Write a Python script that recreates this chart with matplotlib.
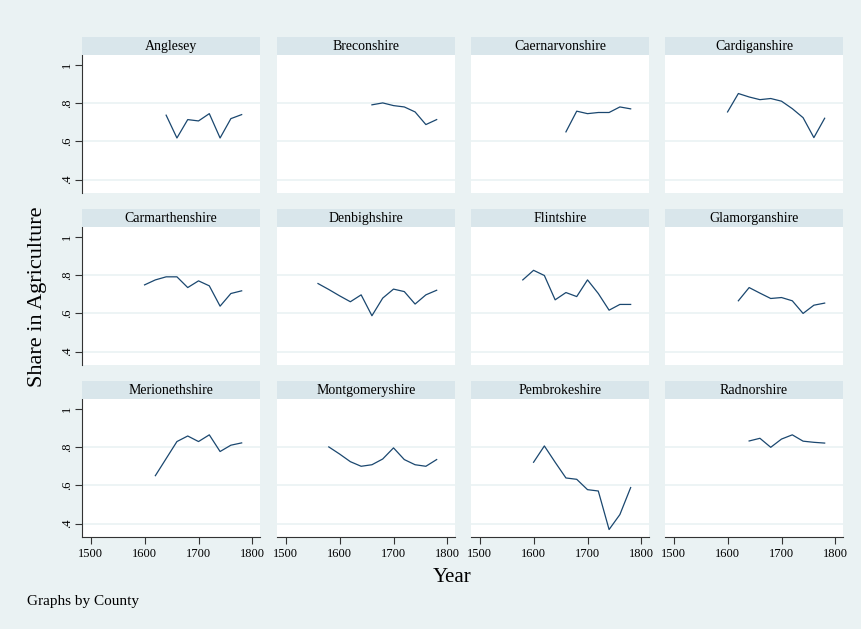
import matplotlib.pyplot as plt

plt.rcParams['font.family'] = ['Liberation Serif', 'DejaVu Serif']

# share in agriculture by county, 20-year steps
counties = ['Anglesey', 'Breconshire', 'Caernarvonshire', 'Cardiganshire',
            'Carmarthenshire', 'Denbighshire', 'Flintshire', 'Glamorganshire',
            'Merionethshire', 'Montgomeryshire', 'Pembrokeshire', 'Radnorshire']

anglesey_yr = [1640, 1660, 1680, 1700, 1720, 1740, 1760, 1780]
anglesey = [0.736, 0.617, 0.713, 0.706, 0.744, 0.617, 0.718, 0.739]

brecon_yr = [1660, 1680, 1700, 1720, 1740, 1760, 1780]
brecon = [0.790, 0.800, 0.786, 0.779, 0.753, 0.687, 0.713]

caernarvon_yr = [1660, 1680, 1700, 1720, 1740, 1760, 1780]
caernarvon = [0.649, 0.757, 0.744, 0.750, 0.750, 0.779, 0.769]

cardigan_yr = [1600, 1620, 1640, 1660, 1680, 1700, 1720, 1740, 1760, 1780]
cardigan = [0.753, 0.849, 0.831, 0.817, 0.823, 0.809, 0.770, 0.723, 0.619, 0.720]

carmarthen_yr = [1600, 1620, 1640, 1660, 1680, 1700, 1720, 1740, 1760, 1780]
carmarthen = [0.748, 0.774, 0.790, 0.790, 0.734, 0.769, 0.743, 0.637, 0.703, 0.717]

denbigh_yr = [1560, 1580, 1600, 1620, 1640, 1660, 1680, 1700, 1720, 1740, 1760, 1780]
denbigh = [0.755, 0.724, 0.691, 0.660, 0.696, 0.587, 0.679, 0.726, 0.713, 0.648, 0.696, 0.720]

flint_yr = [1580, 1600, 1620, 1640, 1660, 1680, 1700, 1720, 1740, 1760, 1780]
flint = [0.774, 0.824, 0.797, 0.670, 0.708, 0.687, 0.774, 0.703, 0.616, 0.646, 0.646]

glamorgan_yr = [1620, 1640, 1660, 1680, 1700, 1720, 1740, 1760, 1780]
glamorgan = [0.665, 0.734, 0.705, 0.677, 0.682, 0.665, 0.599, 0.642, 0.653]

merioneth_yr = [1620, 1640, 1660, 1680, 1700, 1720, 1740, 1760, 1780]
merioneth = [0.650, 0.739, 0.828, 0.857, 0.828, 0.863, 0.776, 0.809, 0.821]

montgomery_yr = [1580, 1600, 1620, 1640, 1660, 1680, 1700, 1720, 1740, 1760, 1780]
montgomery = [0.800, 0.763, 0.723, 0.699, 0.707, 0.737, 0.795, 0.734, 0.707, 0.699, 0.734]

pembroke_yr = [1600, 1620, 1640, 1660, 1680, 1700, 1720, 1740, 1760, 1780]
pembroke = [0.720, 0.805, 0.720, 0.638, 0.631, 0.577, 0.570, 0.369, 0.447, 0.588]

radnor_yr = [1640, 1660, 1680, 1700, 1720, 1740, 1760, 1780]
radnor = [0.831, 0.845, 0.798, 0.841, 0.863, 0.830, 0.824, 0.820]

series = [(anglesey_yr, anglesey), (brecon_yr, brecon), (caernarvon_yr, caernarvon),
          (cardigan_yr, cardigan), (carmarthen_yr, carmarthen), (denbigh_yr, denbigh),
          (flint_yr, flint), (glamorgan_yr, glamorgan), (merioneth_yr, merioneth),
          (montgomery_yr, montgomery), (pembroke_yr, pembroke), (radnor_yr, radnor)]

xticks = [1500, 1600, 1700, 1800]
yticks = [0.4, 0.6, 0.8, 1.0]
ylabels = ['.4', '.6', '.8', '1']

W, H = 861, 629
bg = '#EAF2F3'
strip_col = '#D9E6EB'
line_col = '#1a476f'

fig = plt.figure(figsize=(W / 100, H / 100), dpi=100, facecolor=bg)

col_left = [82, 277, 471, 665]
row_top = [55, 227, 399]
pw, ph, sh = 178, 138, 18

for i, name in enumerate(counties):
    r, c = divmod(i, 4)
    x0, y0 = col_left[c], row_top[r]
    ax = fig.add_axes([x0 / W, 1 - (y0 + ph) / H, pw / W, ph / H])
    ax.set_facecolor('white')
    yrs, vals = series[i]
    ax.plot(yrs, vals, color=line_col, lw=0.9)
    ax.set_xlim(1484, 1814)
    ax.set_ylim(0.33, 1.05)
    for g in [0.4, 0.6, 0.8]:
        ax.axhline(g, color=bg, lw=1.2, zorder=0)
    for s in ax.spines.values():
        s.set_visible(False)
    ax.set_yticks(yticks)
    ax.set_xticks(xticks)
    if c == 0:
        ax.spines['left'].set_visible(True)
        ax.spines['left'].set_color('#333333')
        ax.set_yticklabels(ylabels, rotation=90, va='center', fontsize=9)
        ax.tick_params(axis='y', length=5, width=0.8, color='#333333', pad=1.5)
    else:
        ax.tick_params(axis='y', left=False, labelleft=False)
    if r == 2:
        ax.spines['bottom'].set_visible(True)
        ax.spines['bottom'].set_color('#333333')
        ax.set_xticklabels([str(t) for t in xticks], fontsize=9)
        ax.tick_params(axis='x', length=5, width=0.8, color='#333333', pad=3)
    else:
        ax.tick_params(axis='x', bottom=False, labelbottom=False)

    # county title strip
    sax = fig.add_axes([x0 / W, 1 - y0 / H, pw / W, sh / H])
    sax.set_facecolor(strip_col)
    sax.set_xticks([])
    sax.set_yticks([])
    for s in sax.spines.values():
        s.set_visible(False)
    sax.text(0.5, 0.28, name, ha='center', va='baseline', fontsize=10,
             transform=sax.transAxes)

fig.text(452 / W, 1 - 577 / H, 'Year', ha='center', va='center', fontsize=15)
fig.text(38 / W, 1 - 297 / H, 'Share in Agriculture', ha='center', va='center',
         rotation=90, fontsize=16)
fig.text(27 / W, 1 - 602 / H, 'Graphs by County', ha='left', va='center', fontsize=11)

fig.savefig('out.png', dpi=100, facecolor=bg)
